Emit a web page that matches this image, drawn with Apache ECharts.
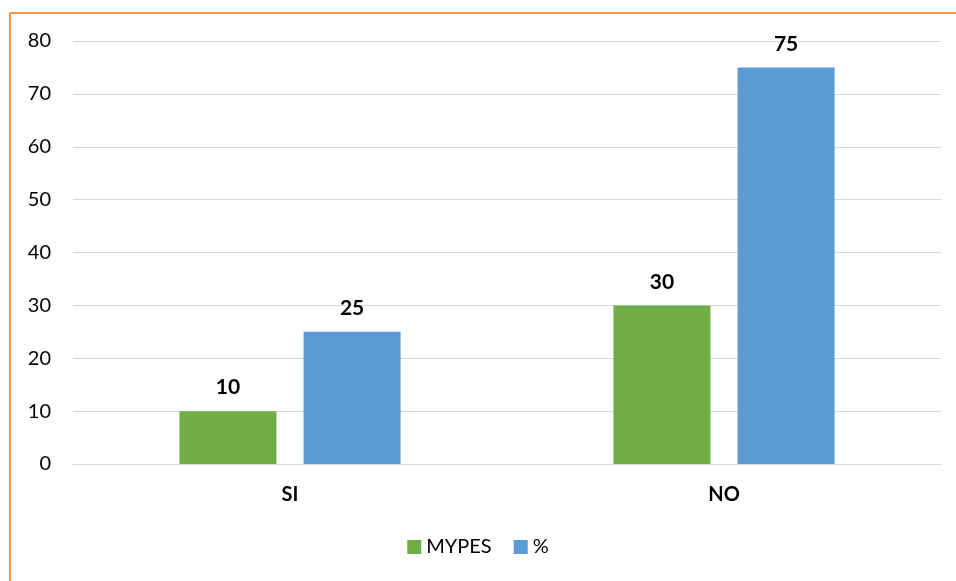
<!DOCTYPE html>
<html>
<head>
<meta charset="utf-8">
<script src="https://cdn.jsdelivr.net/npm/echarts@6/dist/echarts.min.js"></script>
<style>
  html, body { margin: 0; padding: 0; background: #fff; }
  #chart { width: 956px; height: 581px; }
</style>
</head>
<body>
<div id="chart"></div>
<script>
// data
var categories = ['SI', 'NO'];
var mypes = [10, 30];
var percent = [25, 75];

var chart = echarts.init(document.getElementById('chart'));
var font = 'Lato, "Open Sans", sans-serif';

var option = {
  animation: false,
  textStyle: { fontFamily: font },
  graphic: [
    // orange frame (left and top)
    { type: 'line', shape: { x1: 10, y1: 13, x2: 956, y2: 13 }, style: { stroke: '#f79646', lineWidth: 2 } },
    { type: 'line', shape: { x1: 10, y1: 13, x2: 10, y2: 581 }, style: { stroke: '#f79646', lineWidth: 2 } }
  ],
  grid: { left: 73, right: 15, top: 41, bottom: 117 },
  legend: {
    bottom: 19,
    left: 'center',
    itemWidth: 14,
    itemHeight: 14,
    itemGap: 22,
    icon: 'rect',
    textStyle: { fontSize: 20, color: '#000', fontFamily: font },
    data: ['MYPES', '%']
  },
  xAxis: {
    type: 'category',
    data: categories,
    axisLine: { lineStyle: { color: '#d9d9d9' } },
    axisTick: { show: false },
    axisLabel: { fontSize: 20, fontWeight: 'bold', color: '#000', margin: 21 }
  },
  yAxis: {
    type: 'value',
    min: 0,
    max: 80,
    interval: 10,
    axisLine: { show: false },
    axisTick: { show: false },
    axisLabel: { fontSize: 20, color: '#000', margin: 22 },
    splitLine: { lineStyle: { color: '#d9d9d9', width: 1 } }
  },
  series: [
    {
      name: 'MYPES',
      type: 'bar',
      data: mypes,
      barWidth: 97,
      barGap: '28%',
      itemStyle: { color: '#70ad47' },
      label: { show: true, position: 'top', distance: 13, fontSize: 21, fontWeight: 'bold', color: '#000' }
    },
    {
      name: '%',
      type: 'bar',
      data: percent,
      barWidth: 97,
      itemStyle: { color: '#5b9bd5' },
      label: { show: true, position: 'top', distance: 13, fontSize: 21, fontWeight: 'bold', color: '#000' }
    }
  ]
};

chart.setOption(option);
</script>
</body>
</html>
